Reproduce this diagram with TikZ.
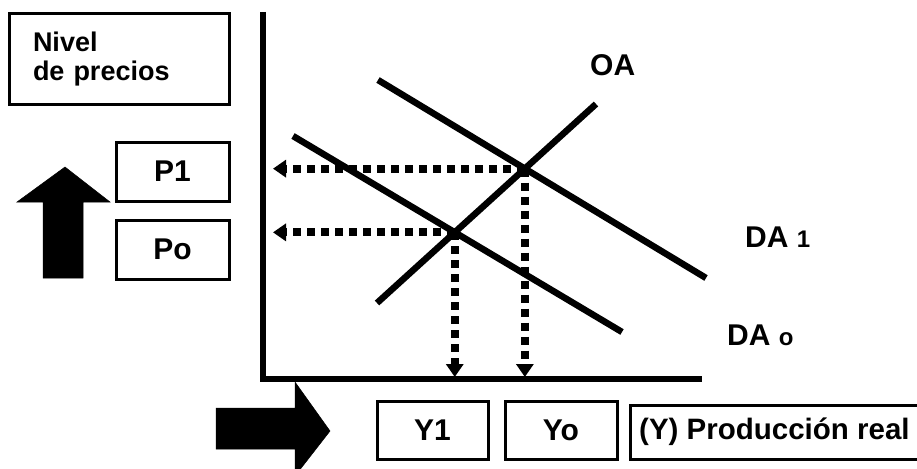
\documentclass[tikz,border=0pt]{standalone}
\usepackage{fontspec}
\setmainfont{Liberation Sans}
\usetikzlibrary{intersections,arrows.meta}
\begin{document}
\begin{tikzpicture}[x=1pt,y=-1pt,
  lbl/.style={font=\bfseries\fontsize{30}{32}\selectfont},
  valbox/.style={draw, line width=3pt, lbl, inner sep=0pt},
  frame/.style={line width=3pt, line join=miter},
  curve/.style={line width=6.5pt},
  guide/.style={line width=8pt, dash pattern=on 8pt off 6pt,
    -{Triangle[width=17pt,length=13pt]}},
  bigarrow/.style={fill=black, draw=black, line width=0.5pt},
  tag/.style={lbl, inner sep=0pt, anchor=base west}
]
\useasboundingbox (0,0) rectangle (917,468);
\clip (0,0) rectangle (917,468);

% value boxes
\node[valbox, align=left, text width=172pt, inner xsep=24pt,
  minimum height=91pt, font=\bfseries\fontsize{27}{29}\selectfont]
  (nivel) at (119,59.5) {Nivel\\de precios};
\node[valbox, minimum width=113pt, minimum height=59pt] (p1) at (172.5,171.5) {P1};
\node[valbox, minimum width=113pt, minimum height=59pt] (p0) at (172.5,249.5) {Po};
\node[valbox, minimum width=111pt, minimum height=58pt] (y1) at (432.5,430) {Y1};
\node[valbox, minimum width=112pt, minimum height=58pt] (y0) at (561,430) {Yo};

% axis caption, its frame running off the right edge
\node[lbl, anchor=west, inner sep=0pt, font=\bfseries\fontsize{29.5}{32}\selectfont]
  (prod) at (639,432) {(Y) Producción real};
\coordinate (prodtr) at (917,405);
\coordinate (prodbr) at (917,459);
\draw[frame] (prodtr) -- (630,405) -- (630,459) -- (prodbr);

% thick block arrows
\fill[bigarrow] (43,278) -- (43,202) -- (17,202) -- (65,167) -- (110,202)
  -- (83,202) -- (83,278) -- cycle;
\fill[bigarrow] (216,408) -- (295,408) -- (295,382) -- (330,431) -- (295,476)
  -- (295,449) -- (216,449) -- cycle;

% axes
\coordinate (ytop) at (263,12);
\coordinate (orig) at (263,379);
\coordinate (xend) at (702,379);
\draw[line width=5.5pt, line join=miter] (ytop) -- (orig) -- (xend);

% supply and demand lines
\coordinate (da1a) at (378,80);
\coordinate (da1b) at (706,278);
\coordinate (da0a) at (293,136);
\coordinate (da0b) at (622,332);
\coordinate (oaa) at (377,303);
\coordinate (oab) at (596,104);
\draw[curve, name path=da1] (da1a) -- (da1b);
\draw[curve, name path=da0] (da0a) -- (da0b);
\draw[curve, name path=oa] (oaa) -- (oab);
\path[name intersections={of=oa and da1, by=E1}];
\path[name intersections={of=oa and da0, by=E0}];

% projections onto the axes
\coordinate (pleft) at (273,0);
\coordinate (pbot) at (0,377);
\draw[guide] (E1) -- (E1 -| pleft);
\draw[guide] (E0) -- (E0 -| pleft);
\draw[guide] (E1) -- (E1 |- pbot);
\draw[guide] (E0) -- (E0 |- pbot);

% curve labels
\node[tag] (oalbl) at (590,76) {OA};
\node[tag] (da1lbl) at (745,247) {DA {\fontsize{24}{24}\selectfont 1}};
\node[tag] (da0lbl) at (727,345) {DA {\fontsize{24}{24}\selectfont o}};
\end{tikzpicture}
\end{document}
